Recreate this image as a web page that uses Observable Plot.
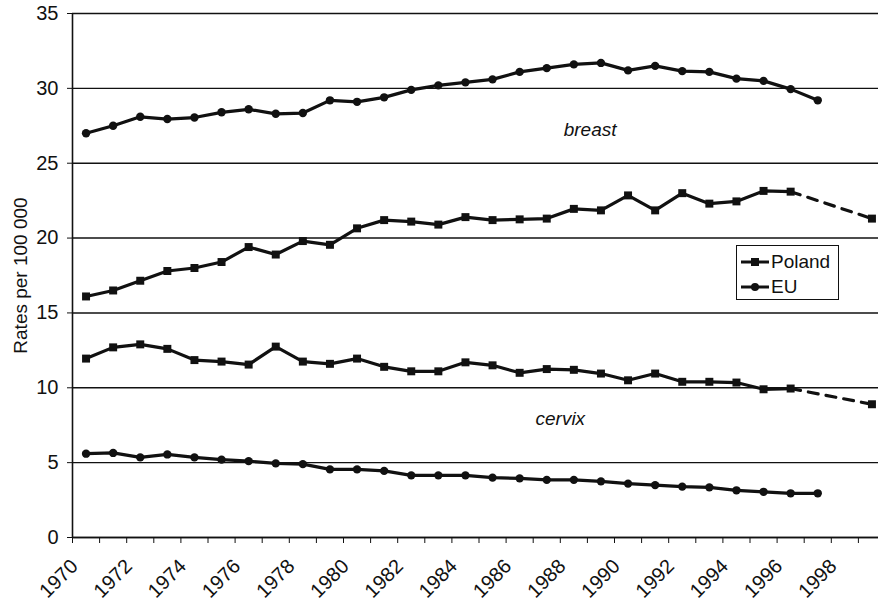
<!DOCTYPE html>
<html>
<head>
<meta charset="utf-8">
<script src="https://cdn.jsdelivr.net/npm/d3@7"></script>
<script src="https://cdn.jsdelivr.net/npm/@observablehq/plot@0.6"></script>
<style>
  html, body { margin: 0; padding: 0; background: #fff; overflow: hidden; }
  #wrap { position: relative; width: 878px; height: 599px; font-family: "Liberation Sans", Arial, sans-serif; }
  #legend { position: absolute; left: 736px; top: 245px; width: 103px; height: 55px; border: 1.4px solid #111; background: #fff; box-sizing: border-box; }
  #legend .row { position: absolute; left: 0; height: 22px; display: flex; align-items: center; font-size: 19px; color: #111; }
</style>
</head>
<body>
<div id="wrap"></div>
<script>
// ---- data ----
const yearsEU = [1970,1971,1972,1973,1974,1975,1976,1977,1978,1979,1980,1981,1982,1983,1984,1985,1986,1987,1988,1989,1990,1991,1992,1993,1994,1995,1996,1997];
const yearsPL = [1970,1971,1972,1973,1974,1975,1976,1977,1978,1979,1980,1981,1982,1983,1984,1985,1986,1987,1988,1989,1990,1991,1992,1993,1994,1995,1996];
const euBreast = [27.0,27.5,28.1,27.95,28.05,28.4,28.6,28.3,28.35,29.2,29.1,29.4,29.9,30.2,30.4,30.6,31.1,31.35,31.6,31.7,31.2,31.5,31.15,31.1,30.65,30.5,29.95,29.2];
const polandBreast = [16.1,16.5,17.15,17.8,18.0,18.4,19.4,18.9,19.8,19.55,20.65,21.2,21.1,20.9,21.4,21.2,21.25,21.3,21.95,21.85,22.85,21.85,23.0,22.3,22.45,23.15,23.1];
const polandCervix = [11.95,12.7,12.9,12.6,11.85,11.75,11.55,12.75,11.75,11.6,11.95,11.4,11.1,11.1,11.7,11.5,11.0,11.25,11.2,10.95,10.5,10.95,10.4,10.4,10.35,9.9,9.95];
const euCervix = [5.6,5.65,5.35,5.55,5.35,5.2,5.1,4.95,4.9,4.55,4.55,4.45,4.15,4.15,4.15,4.0,3.95,3.85,3.85,3.75,3.6,3.5,3.4,3.35,3.15,3.05,2.95,2.95];
// projections (dashed) for Poland
const projYears = [1996, 1999];
const polandBreastProj = [23.1, 21.3];
const polandCervixProj = [9.95, 8.9];
const xTickLabels = [1970,1972,1974,1976,1978,1980,1982,1984,1986,1988,1990,1992,1994,1996,1998];
const xBoundaries = d3.range(1970, 2001);
const yTicks = [0,5,10,15,20,25,30,35];

const series = (years, vals) => years.map((year, i) => ({year, v: vals[i]}));
const sEUB = series(yearsEU, euBreast);
const sPLB = series(yearsPL, polandBreast);
const sPLC = series(yearsPL, polandCervix);
const sEUC = series(yearsEU, euCervix);
const pB = series(projYears, polandBreastProj);
const pC = series(projYears, polandCervixProj);
const cx = d => d.year + 0.5; // category centre

const ink = "#111";
const lineOpts = {x: cx, y: "v", stroke: ink, strokeWidth: 3.2};
const chart = Plot.plot({
  width: 878,
  height: 599,
  marginLeft: 72,
  marginRight: -7,
  marginTop: 13,
  marginBottom: 62,
  style: {fontFamily: '"Liberation Sans", Arial, sans-serif', fontSize: "20px", color: ink, background: "#fff", overflow: "hidden"},
  x: {type: "linear", domain: [1970, 2000]},
  y: {domain: [0, 35]},
  marks: [
    Plot.gridY(yTicks, {stroke: ink, strokeOpacity: 1, strokeWidth: 1.4}),
    Plot.ruleX([1970], {stroke: ink, strokeWidth: 1.6}),
    Plot.ruleY([0], {stroke: ink, strokeWidth: 1.6}),
    Plot.axisY({ticks: yTicks, tickSize: 5, tickPadding: 9, label: null, fontSize: 20}),
    Plot.axisX({ticks: xBoundaries, tickSize: 6, tickFormat: () => "", label: null}),
    Plot.text(xTickLabels, {x: d => d + 0.5, frameAnchor: "bottom", text: d => String(d), rotate: -45, textAnchor: "end", lineAnchor: "bottom", dx: -7, dy: 30, fontSize: 20, fill: ink}),
    Plot.text(["Rates per 100 000"], {frameAnchor: "left", dx: -52, rotate: -90, textAnchor: "middle", lineAnchor: "middle", fontSize: 19, fill: ink}),
    // solid lines
    Plot.line(sEUB, lineOpts),
    Plot.line(sPLB, lineOpts),
    Plot.line(sPLC, lineOpts),
    Plot.line(sEUC, lineOpts),
    // dashed projections
    Plot.line(pB, {...lineOpts, strokeDasharray: "10,8"}),
    Plot.line(pC, {...lineOpts, strokeDasharray: "10,8"}),
    // markers
    Plot.dot(sEUB, {x: cx, y: "v", r: 4.2, fill: ink, symbol: "circle"}),
    Plot.dot(sEUC, {x: cx, y: "v", r: 4.2, fill: ink, symbol: "circle"}),
    Plot.dot(sPLB, {x: cx, y: "v", r: 4.5, fill: ink, symbol: "square"}),
    Plot.dot(sPLC, {x: cx, y: "v", r: 4.5, fill: ink, symbol: "square"}),
    Plot.dot(pB.slice(1), {x: cx, y: "v", r: 4.5, fill: ink, symbol: "square"}),
    Plot.dot(pC.slice(1), {x: cx, y: "v", r: 4.5, fill: ink, symbol: "square"}),
    // region labels
    Plot.text(["breast"], {x: 1989.1, y: 27.2, fontStyle: "italic", fontSize: 19, fill: ink}),
    Plot.text(["cervix"], {x: 1988.0, y: 7.95, fontStyle: "italic", fontSize: 19, fill: ink})
  ]
});
const wrap = document.getElementById("wrap");
wrap.appendChild(chart);

// legend (inside plot area)
const legend = document.createElement("div");
legend.id = "legend";
const items = [{label: "Poland", symbol: "square"}, {label: "EU", symbol: "circle"}];
items.forEach((it, i) => {
  const row = document.createElement("div");
  row.className = "row";
  row.style.top = (5 + i * 25) + "px";
  row.style.left = "3px";
  const sw = d3.create("svg").attr("width", 30).attr("height", 22);
  sw.append("line").attr("x1", 1).attr("x2", 29).attr("y1", 11).attr("y2", 11).attr("stroke", ink).attr("stroke-width", 3);
  if (it.symbol === "square") sw.append("rect").attr("x", 11).attr("y", 7).attr("width", 8).attr("height", 8).attr("fill", ink);
  else sw.append("circle").attr("cx", 15).attr("cy", 11).attr("r", 4).attr("fill", ink);
  row.appendChild(sw.node());
  const t = document.createElement("span");
  t.textContent = it.label;
  t.style.marginLeft = "1px";
  row.appendChild(t);
  legend.appendChild(row);
});
wrap.appendChild(legend);
</script>
</body>
</html>
